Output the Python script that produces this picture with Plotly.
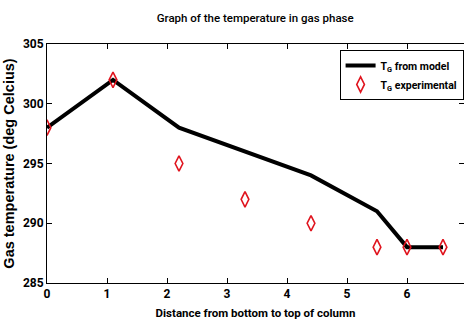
import plotly.graph_objects as go

x_model = [0, 1.1, 2.2, 3.3, 4.4, 5.5, 6.0, 6.6]
t_model = [298, 302, 298, 296, 294, 291, 288, 288]
x_exp = [0, 1.1, 2.2, 3.3, 4.4, 5.5, 6.0, 6.6]
t_exp = [298, 302, 295, 292, 290, 288, 288, 288]
x_ticks = [0, 1, 2, 3, 4, 5, 6, 7]
y_ticks = [285, 290, 295, 300, 305]

FONT = "Roboto, Liberation Sans, Arial"

fig = go.Figure()
fig.add_trace(go.Scatter(x=x_model, y=t_model, mode="lines",
                         line=dict(color="black", width=4),
                         name="T<sub>G</sub> from model"))
fig.add_trace(go.Scatter(x=x_exp, y=t_exp, mode="markers",
                         marker=dict(symbol="diamond-tall-open", size=11,
                                     color="#e0141e", line=dict(width=1.6, color="#e0141e")),
                         name="T<sub>G</sub> experimental"))

axis_common = dict(showline=True, linecolor="black", linewidth=1, mirror="ticks",
                   ticks="inside", ticklen=5, tickcolor="black", showgrid=False,
                   zeroline=False, automargin=False,
                   tickfont=dict(family=FONT, size=12, color="black", weight="bold"))

fig.update_layout(
    width=464, height=325,
    margin=dict(l=47, r=0, t=44, b=42, autoexpand=False),
    paper_bgcolor="white", plot_bgcolor="white",
    title=dict(text="Graph of the temperature in gas phase", x=0.55, xanchor="center",
               y=0.945, yanchor="middle",
               font=dict(family=FONT, size=11.5, color="black", weight=500)),
    xaxis=dict(range=[0, 6.95], tickvals=x_ticks,
               title=dict(text="Distance from bottom to top of column", standoff=8,
                          font=dict(family=FONT, size=11.5, color="black", weight="bold")),
               **axis_common),
    yaxis=dict(range=[285, 305], tickvals=y_ticks,
               title=dict(text="Gas temperature (deg Celcius)", standoff=4,
                          font=dict(family="Liberation Sans, Arial", size=14.5, color="black", weight="bold")),
               **axis_common),
    legend=dict(x=0.999, y=0.975, xanchor="right", yanchor="top",
                bgcolor="white", bordercolor="black", borderwidth=1,
                itemwidth=30,
                font=dict(family=FONT, size=10.5, color="black", weight="bold"),
                tracegroupgap=2),
    showlegend=True,
)

fig.write_html("out.html")
